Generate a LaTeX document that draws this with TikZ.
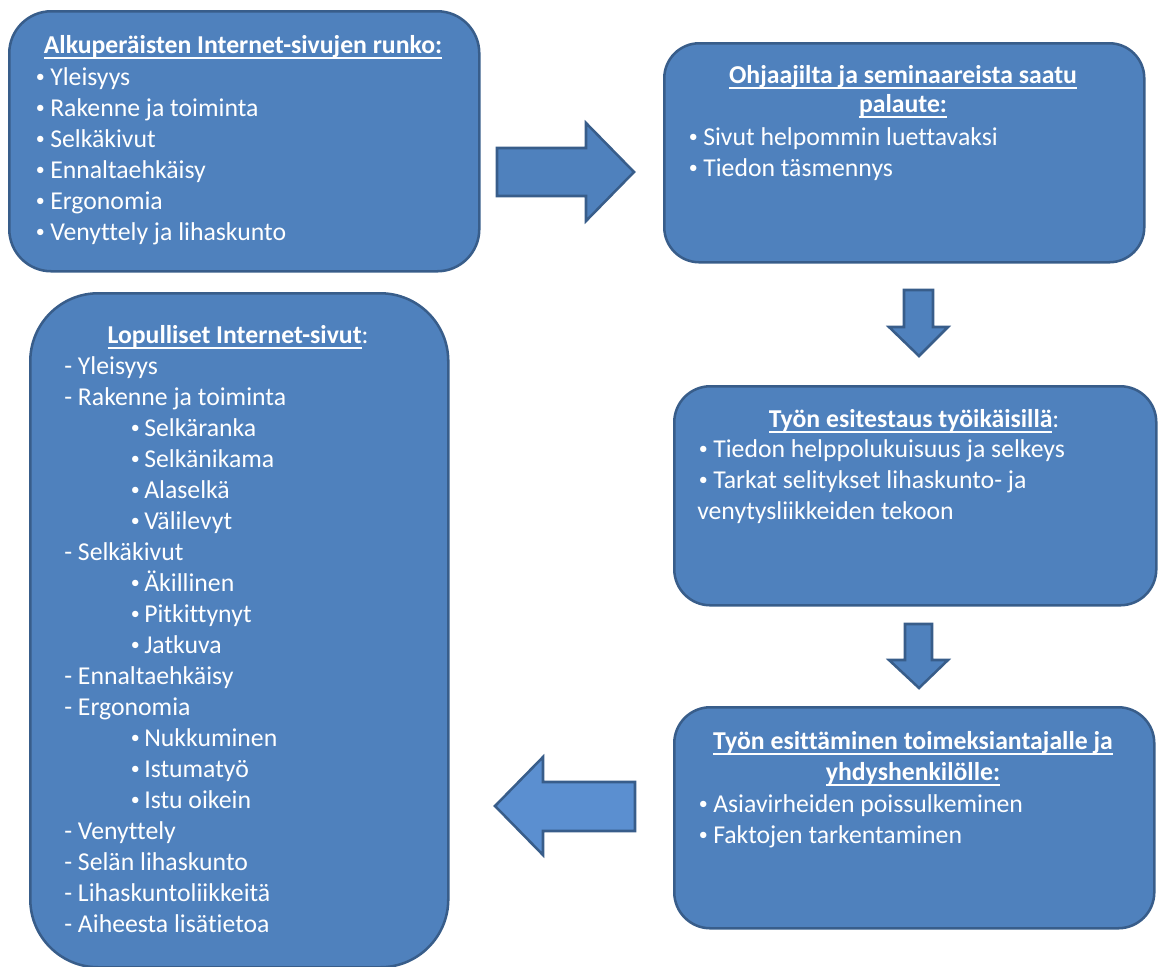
\documentclass[tikz,border=0pt]{standalone}
\usepackage{graphicx}
\usepackage{fontspec}
\setmainfont{Carlito}[Ligatures=NoCommon]
\newdimen\pxu \pxu=0.75pt
\definecolor{boxfill}{HTML}{4F81BD}
\definecolor{boxline}{HTML}{385D8A}
\definecolor{arrowlight}{HTML}{5B8FD0}
\newcommand\ulx[1]{\setbox0\hbox{#1}\rlap{\rule[-4.5pt]{\wd0}{1.5pt}}\box0}
\newcommand\dotb{\raisebox{0.1em}{\scalebox{0.7}{•}}}
\newcommand\bu{\makebox[16\pxu][l]{\hspace{1.5\pxu}\dotb}}
\newcommand\sbu{\hspace*{65\pxu}\makebox[15\pxu][l]{\hspace{1.5\pxu}\dotb}}
\newcommand\lst[1]{\parbox[t]{420\pxu}{\setlength\baselineskip{31\pxu}\raggedright #1}}
\tikzset{
  box/.style={draw=boxline, fill=boxfill, line width=1.9pt, rectangle, inner sep=0pt, anchor=north west},
  txt/.style={text=white, inner sep=0pt, font=\fontsize{19.3pt}{24pt}\selectfont},
  title/.style={txt, anchor=base},
  list/.style={txt, anchor=base west},
  barrow/.style={draw=boxline, fill=boxfill, line width=1.9pt, line join=miter},
}
\begin{document}
\begin{tikzpicture}[x=0.75pt, y=-0.75pt]
\useasboundingbox (0,0) rectangle (1160,967);
% boxes
\node[box, minimum width=470\pxu, minimum height=260\pxu, rounded corners=42\pxu] (b1) at (8,10) {};
\node[box, minimum width=480\pxu, minimum height=219\pxu, rounded corners=35\pxu] (b2) at (663,42) {};
\node[box, minimum width=482\pxu, minimum height=219\pxu, rounded corners=36\pxu] (b3) at (673,385) {};
\node[box, minimum width=480\pxu, minimum height=221\pxu, rounded corners=36\pxu] (b4) at (673,706) {};
\node[box, minimum width=418\pxu, minimum height=674\pxu, rounded corners=68\pxu] (b5) at (29,292) {};
% arrows
\draw[barrow] (497,148) -- (586,148) -- (586,123) -- (634,172) -- (586,221) -- (586,196) -- (497,196) -- cycle;
\draw[barrow] (904,290) -- (933,290) -- (933,327) -- (948,327) -- (919,356) -- (889,327) -- (904,327) -- cycle;
\draw[barrow] (905,624) -- (932,624) -- (932,660) -- (948,660) -- (919,688) -- (889,660) -- (905,660) -- cycle;
\draw[barrow, fill=arrowlight] (635,782) -- (543,782) -- (543,757) -- (495,806) -- (543,855) -- (543,831) -- (635,831) -- cycle;
% box 1 text
\node[title] (t1) at (243,53) {\ulx{\textbf{Alkuperäisten Internet-sivujen runko:}}};
\node[list] (l1) at (34,85) {\lst{\bu Yleisyys\\ \bu Rakenne ja toiminta\\ \bu Selkäkivut\\ \bu Ennaltaehkäisy\\ \bu Ergonomia\\ \bu Venyttely ja lihaskunto}};
% box 2 text
\node[title] (t2a) at (903,83) {\ulx{\textbf{Ohjaajilta ja seminaareista saatu}}};
\node[title] (t2b) at (903,112) {\ulx{\textbf{palaute:}}};
\node[list] (l2) at (687,145) {\lst{\bu Sivut helpommin luettavaksi\\ \bu Tiedon täsmennys}};
% box 3 text
\node[title] (t3) at (914,427) {\ulx{\textbf{Työn esitestaus työikäisillä}}:};
\node[list] (l3) at (697,457) {\lst{\bu Tiedon helppolukuisuus ja selkeys\\ \bu Tarkat selitykset lihaskunto- ja\\ venytysliikkeiden tekoon}};
% box 4 text
\node[title] (t4a) at (913,749) {\ulx{\textbf{Työn esittäminen toimeksiantajalle ja}}};
\node[title] (t4b) at (913,780) {\ulx{\textbf{yhdyshenkilölle:}}};
\node[list] (l4) at (697,812) {\lst{\bu Asiavirheiden poissulkeminen\\ \bu Faktojen tarkentaminen}};
% big box text
\node[title] (t5) at (238,343) {\ulx{\textbf{Lopulliset Internet-sivut}}:};
\node[list] (l5) at (64,374) {\lst{- Yleisyys\\ - Rakenne ja toiminta\\ \sbu Selkäranka\\ \sbu Selkänikama\\ \sbu Alaselkä\\ \sbu Välilevyt\\ - Selkäkivut\\ \sbu Äkillinen\\ \sbu Pitkittynyt\\ \sbu Jatkuva\\ - Ennaltaehkäisy\\ - Ergonomia\\ \sbu Nukkuminen\\ \sbu Istumatyö\\ \sbu Istu oikein\\ - Venyttely\\ - Selän lihaskunto\\ - Lihaskuntoliikkeitä\\ - Aiheesta lisätietoa}};
\end{tikzpicture}
\end{document}
